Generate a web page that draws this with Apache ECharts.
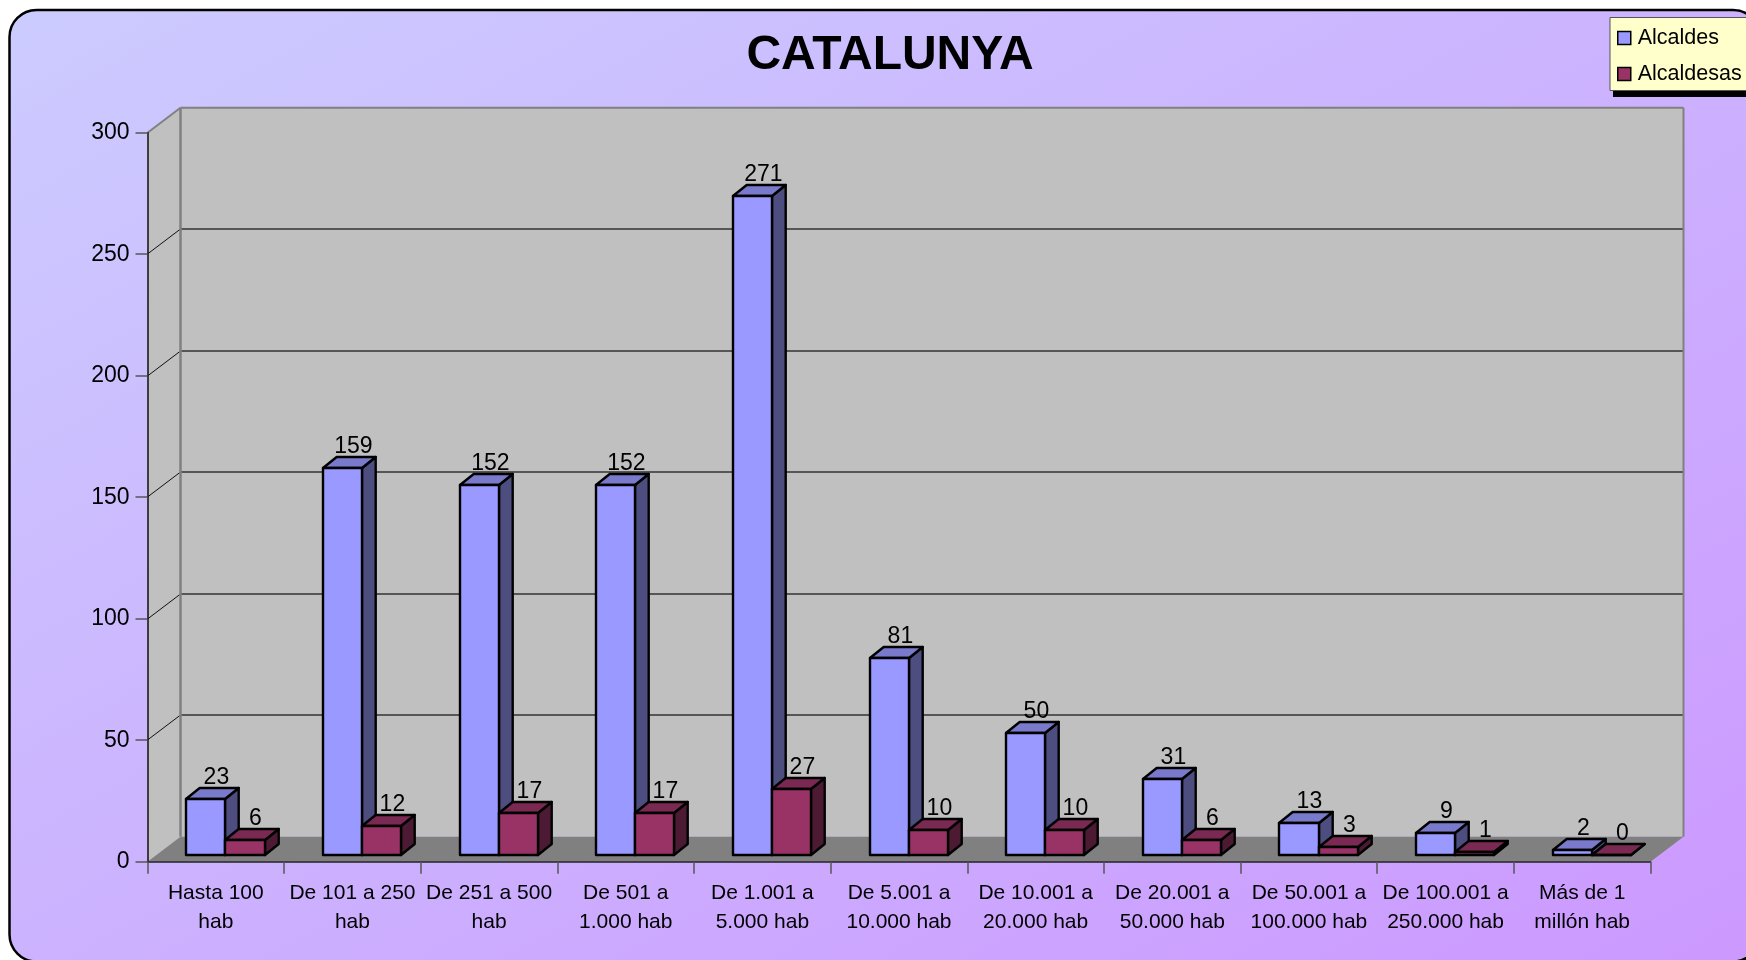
<!DOCTYPE html>
<html>
<head>
<meta charset="utf-8">
<title>CATALUNYA</title>
<style>
  html, body { margin: 0; padding: 0; background: #fff; }
  #chart { width: 1746px; height: 960px; }
</style>
<script src="https://cdn.jsdelivr.net/npm/echarts@6/dist/echarts.min.js"></script>
</head>
<body>
<div id="chart"></div>
<script>
const categories = [
  'Hasta 100\nhab',
  'De 101 a 250\nhab',
  'De 251 a 500\nhab',
  'De 501 a\n1.000 hab',
  'De 1.001 a\n5.000 hab',
  'De 5.001 a\n10.000 hab',
  'De 10.001 a\n20.000 hab',
  'De 20.001 a\n50.000 hab',
  'De 50.001 a\n100.000 hab',
  'De 100.001 a\n250.000 hab',
  'Más de 1\nmillón hab'
];
const alcaldes = [23, 159, 152, 152, 271, 81, 50, 31, 13, 9, 2];
const alcaldesas = [6, 12, 17, 17, 27, 10, 10, 6, 3, 1, 0];
const yTicks = [0, 50, 100, 150, 200, 250, 300];

const FONT = '"Liberation Sans", Arial, sans-serif';

// profundidad de la "caja" 3D y de cada barra, en px
const WALL_DX = 33;
const WALL_DY = -25;
const BAR_DX = 13.7;
const BAR_DY = -11;
const BAR_RATIO = 0.286; // ancho de barra / ancho de categoria
const BAR_STROKE = 2.4;

const BLUE = { front: '#9999ff', side: '#4d4d80', top: '#7a7acc' };
const RED = { front: '#993366', side: '#4d1a33', top: '#7a2952' };

function poly(points, fill, stroke, lineWidth) {
  return {
    type: 'polygon',
    shape: { points },
    style: { fill, stroke: stroke || 'none', lineWidth: lineWidth || 0, lineJoin: 'round' }
  };
}

function line(x1, y1, x2, y2, stroke, lineWidth) {
  return {
    type: 'line',
    shape: { x1, y1, x2, y2 },
    style: { stroke, lineWidth }
  };
}

// paredes y suelo, una sola vez
function renderWalls(params, api) {
  const c = params.coordSys;
  const left = c.x;
  const right = c.x + c.width;
  const top = c.y;
  const bottom = c.y + c.height;
  const children = [
    poly([[left, top], [left + WALL_DX, top + WALL_DY], [left + WALL_DX, bottom + WALL_DY], [left, bottom]], '#c0c0c0'),
    poly([[left + WALL_DX, top + WALL_DY], [right + WALL_DX, top + WALL_DY], [right + WALL_DX, bottom + WALL_DY], [left + WALL_DX, bottom + WALL_DY]], '#c0c0c0'),
    poly([[left, bottom], [left + WALL_DX, bottom + WALL_DY], [right + WALL_DX, bottom + WALL_DY], [right, bottom]], '#808080')
  ];
  yTicks.forEach((tick) => {
    if (tick === 0 || tick === 300) {
      return;
    }
    const y = Math.round(api.coord([0, tick])[1]);
    children.push(line(left, y, left + WALL_DX, y + WALL_DY, '#111', 1));
    children.push(line(left + WALL_DX, y + WALL_DY, right + WALL_DX, y + WALL_DY, '#333', 1.5));
  });
  // bordes grises
  children.push(line(left, top, left + WALL_DX, top + WALL_DY, '#808080', 2));
  children.push(line(left + WALL_DX, top + WALL_DY, right + WALL_DX, top + WALL_DY, '#808080', 2));
  children.push(line(left + WALL_DX, top + WALL_DY, left + WALL_DX, bottom + WALL_DY, '#808080', 2.5));
  children.push(line(right + WALL_DX, top + WALL_DY, right + WALL_DX, bottom + WALL_DY, '#808080', 2));
  return { type: 'group', children };
}

function barRenderer(palette, barIndex) {
  return function (params, api) {
    const base = api.coord([api.value(0), 0]);
    const head = api.coord([api.value(0), api.value(1)]);
    const catWidth = api.size([1, 0])[0];
    const w = catWidth * BAR_RATIO;
    // la barra esta centrada en la profundidad de la caja
    const offX = (WALL_DX - BAR_DX) / 2;
    const offY = (WALL_DY - BAR_DY) / 2;
    const x0 = Math.round(base[0] - w + barIndex * w + offX);
    const x1 = Math.round(base[0] - w + (barIndex + 1) * w + offX);
    const yB = Math.round(base[1] + offY);
    const yT = Math.round(head[1] + offY);
    const children = [
      poly([[x1, yB], [x1 + BAR_DX, yB + BAR_DY], [x1 + BAR_DX, yT + BAR_DY], [x1, yT]], palette.side, '#000', BAR_STROKE),
      poly([[x0, yT], [x0 + BAR_DX, yT + BAR_DY], [x1 + BAR_DX, yT + BAR_DY], [x1, yT]], palette.top, '#000', BAR_STROKE),
      poly([[x0, yB], [x1, yB], [x1, yT], [x0, yT]], palette.front, '#000', BAR_STROKE),
      {
        type: 'text',
        style: {
          x: x0 + (w + BAR_DX) / 2 + 4,
          y: yT + BAR_DY + 1,
          text: String(api.value(1)),
          align: 'center',
          verticalAlign: 'bottom',
          fill: '#000',
          fontSize: 23,
          fontFamily: FONT
        }
      }
    ];
    return { type: 'group', children };
  };
}

const chart = echarts.init(document.getElementById('chart'));

chart.setOption({
  animation: false,
  backgroundColor: '#fff',
  graphic: [
    {
      type: 'rect',
      z: -10,
      silent: true,
      shape: { x: 9.5, y: 10, width: 1750.5, height: 951.5, r: 27 },
      style: {
        // isolineas paralelas a la antidiagonal de la pagina
        fill: new echarts.graphic.LinearGradient(468, -257, 1278, 1217, [
          { offset: 0, color: '#ccccff' },
          { offset: 1, color: '#cc99ff' }
        ], true),
        stroke: '#000',
        lineWidth: 2.5
      }
    },
    // sombra y caja de la leyenda (shadow* del legend pinta el borde por dentro)
    {
      type: 'rect',
      z: -9,
      silent: true,
      shape: { x: 1613, y: 24, width: 150, height: 73 },
      style: { fill: '#000' }
    },
    {
      type: 'rect',
      z: -8,
      silent: true,
      shape: { x: 1610, y: 17.5, width: 150, height: 73 },
      style: { fill: '#ffffcc', stroke: '#555', lineWidth: 1 }
    }
  ],
  title: {
    text: 'CATALUNYA',
    left: 885,
    top: 27,
    textAlign: 'center',
    textStyle: { fontFamily: FONT, fontSize: 48, fontWeight: 'bold', color: '#000' }
  },
  legend: {
    orient: 'vertical',
    left: 1610,
    top: 18,
    padding: [9, 14, 9, 7],
    itemWidth: 13,
    itemHeight: 13,
    itemGap: 14,
    selectedMode: false,
    textStyle: { fontFamily: FONT, fontSize: 21.5, color: '#000', padding: [0, 0, 0, 2] },
    data: [
      { name: 'Alcaldes', icon: 'rect', itemStyle: { color: BLUE.front, borderColor: '#000', borderWidth: 1.5 } },
      { name: 'Alcaldesas', icon: 'rect', itemStyle: { color: RED.front, borderColor: '#000', borderWidth: 1.5 } }
    ]
  },
  grid: { left: 147.5, right: 95.5, top: 132.7, bottom: 98.3 },
  xAxis: {
    type: 'category',
    data: categories,
    boundaryGap: true,
    z: 5,
    axisLine: { lineStyle: { color: '#222', width: 1.5 } },
    axisTick: { show: true, length: 12, lineStyle: { color: '#555', width: 1.5 } },
    axisLabel: {
      interval: 0,
      margin: 17,
      lineHeight: 29,
      fontFamily: FONT,
      fontSize: 21,
      color: '#000'
    }
  },
  yAxis: {
    type: 'value',
    min: 0,
    max: 300,
    interval: 50,
    z: 5,
    axisLine: { show: true, lineStyle: { color: '#111', width: 1.5 } },
    axisTick: { show: true, length: 12, lineStyle: { color: '#555', width: 1.5 } },
    axisLabel: { margin: 18, fontFamily: FONT, fontSize: 23, color: '#000' },
    splitLine: { show: false }
  },
  series: [
    {
      name: 'walls',
      type: 'custom',
      z: 1,
      silent: true,
      renderItem: renderWalls,
      data: [[0, 0]],
      encode: { x: 0, y: 1 }
    },
    {
      name: 'Alcaldes',
      type: 'custom',
      z: 2,
      silent: true,
      itemStyle: { color: BLUE.front },
      renderItem: barRenderer(BLUE, 0),
      encode: { x: 0, y: 1 },
      data: alcaldes.map((v, i) => [i, v])
    },
    {
      name: 'Alcaldesas',
      type: 'custom',
      z: 3,
      silent: true,
      itemStyle: { color: RED.front },
      renderItem: barRenderer(RED, 1),
      encode: { x: 0, y: 1 },
      data: alcaldesas.map((v, i) => [i, v])
    }
  ]
});
</script>
</body>
</html>
